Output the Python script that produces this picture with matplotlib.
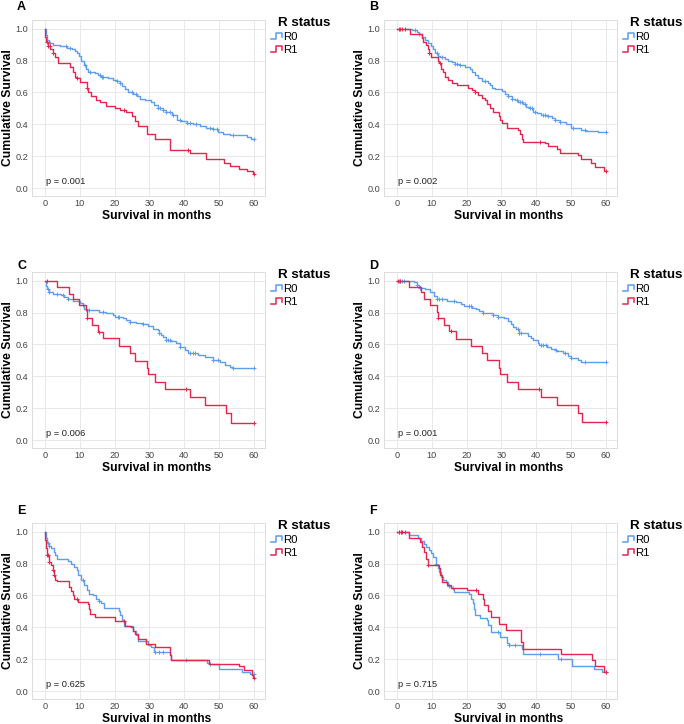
import numpy as np
import matplotlib
matplotlib.use('Agg')
import matplotlib.pyplot as plt
from matplotlib.legend_handler import HandlerBase
from matplotlib.lines import Line2D

plt.rcParams['font.family'] = ['Liberation Sans', 'DejaVu Sans']

# ---------------- data ----------------
panel_labels = ['A', 'B', 'C', 'D', 'E', 'F']
p_texts = ['p = 0.001', 'p = 0.002', 'p = 0.006', 'p = 0.001', 'p = 0.625', 'p = 0.715']
group_names = ['R0', 'R1']
x_ticks = [0, 10, 20, 30, 40, 50, 60]
y_ticks = [0.0, 0.2, 0.4, 0.6, 0.8, 1.0]

# Panel A
A_R0_t = [0.19, 0.67, 1.24, 2.39, 4.31, 6.22, 7.66, 8.61, 9.28, 9.86, 10.5, 11.2, 11.8, 12.4, 14.4, 15.3, 16.0,
          18.2, 19.6, 20.6, 21.5, 22.0, 23.0, 23.9, 25.4, 26.5, 27.3, 28.7, 30.6, 31.3, 32.5, 34.0, 34.9, 36.4,
          37.8, 39.2, 40.7, 42.6, 44.5, 46.4, 48.3, 49.8, 51.2, 53.1, 57.9, 59.3]
A_R0_s = [0.96, 0.93, 0.91, 0.90, 0.89, 0.88, 0.87, 0.86, 0.85, 0.83, 0.80, 0.77, 0.75, 0.73, 0.72, 0.71, 0.70,
          0.69, 0.68, 0.675, 0.66, 0.64, 0.62, 0.60, 0.59, 0.575, 0.56, 0.55, 0.54, 0.52, 0.50, 0.49, 0.475, 0.46,
          0.43, 0.42, 0.41, 0.40, 0.39, 0.38, 0.37, 0.35, 0.34, 0.33, 0.32, 0.31]
A_R0_c = [1.4, 6.2, 7.2, 11.5, 13.0, 15.8, 16.3, 16.7, 20.6, 21.5, 24.9, 26.3, 32.5, 33.0, 34.0, 34.9, 35.9,
          36.8, 38.7, 40.7, 41.6, 43.5, 47.4, 48.3, 49.3, 54.1, 60.0]
A_R1_t = [0.1, 0.38, 0.77, 1.44, 2.2, 2.87, 3.83, 7.18, 7.94, 8.61, 9.28, 10.05, 12.15, 12.5, 13.1, 14.8, 15.8,
          17.5, 20.1, 21.7, 23.4, 24.9, 25.8, 26.8, 29.2, 31.6, 35.9, 41.6, 46.4, 51.4, 53.1, 55.8, 57.9, 59.8]
A_R1_s = [0.95, 0.92, 0.89, 0.87, 0.85, 0.82, 0.785, 0.76, 0.73, 0.70, 0.69, 0.665, 0.63, 0.60, 0.575, 0.55, 0.54,
          0.515, 0.505, 0.49, 0.475, 0.45, 0.42, 0.39, 0.337, 0.305, 0.236, 0.222, 0.18, 0.16, 0.14, 0.12, 0.11, 0.09]
A_R1_c = [0.5, 0.9, 1.4, 2.4, 9.3, 12.2, 22.6, 41.2, 60.0]

# Panel B
B_R0_t = [4.3, 5.7, 6.4, 7.2, 8.1, 8.9, 9.8, 10.5, 11.0, 11.7, 12.4, 13.8, 14.8, 15.8, 16.7, 18.1, 19.6, 21.0,
          21.7, 22.4, 23.4, 24.4, 26.3, 26.7, 27.2, 28.2, 30.1, 31.0, 32.0, 33.0, 33.9, 34.9, 36.3, 37.2, 38.2,
          39.2, 40.1, 41.5, 43.0, 44.4, 45.4, 46.8, 48.7, 50.1, 53.0, 54.4, 57.8]
B_R0_s = [0.99, 0.98, 0.97, 0.95, 0.93, 0.91, 0.89, 0.87, 0.85, 0.83, 0.82, 0.81, 0.80, 0.79, 0.78, 0.77, 0.76,
          0.75, 0.73, 0.71, 0.69, 0.675, 0.66, 0.645, 0.63, 0.62, 0.61, 0.59, 0.575, 0.56, 0.55, 0.54, 0.53, 0.51,
          0.50, 0.48, 0.47, 0.46, 0.45, 0.44, 0.43, 0.415, 0.40, 0.38, 0.365, 0.36, 0.35]
B_R0_c = [5.3, 6.4, 11.5, 12.9, 16.7, 17.2, 18.1, 25.3, 32.0, 33.0, 34.4, 35.3, 35.8, 36.8, 38.2, 38.7, 39.6,
          42.0, 42.5, 43.5, 45.4, 46.8, 50.6, 53.9, 60.0]
B_R1_t = [3.8, 7.2, 7.6, 8.3, 8.8, 9.3, 9.8, 11.7, 12.2, 12.7, 13.2, 13.7, 14.6, 15.8, 17.2, 20.3, 21.7, 22.4,
          23.4, 24.4, 25.3, 26.0, 26.7, 27.7, 29.3, 29.6, 30.1, 31.5, 34.7, 35.3, 35.8, 36.3, 42.5, 43.5, 46.1,
          46.8, 51.9, 53.0, 55.7, 57.0, 59.5]
B_R1_s = [0.97, 0.94, 0.915, 0.90, 0.87, 0.85, 0.82, 0.80, 0.785, 0.75, 0.73, 0.70, 0.68, 0.66, 0.645, 0.625,
          0.615, 0.60, 0.585, 0.565, 0.55, 0.53, 0.50, 0.48, 0.45, 0.425, 0.41, 0.38, 0.365, 0.34, 0.31, 0.29,
          0.28, 0.265, 0.245, 0.222, 0.205, 0.18, 0.158, 0.135, 0.11]
B_R1_c = [0.5, 1.0, 1.4, 2.4, 9.3, 12.4, 22.4, 41.0, 60.0]

# Panel C
C_R0_t = [0.3, 0.6, 1.2, 2.2, 4.6, 5.6, 6.5, 8.0, 10.1, 10.8, 11.3, 12.0, 15.6, 17.6, 19.5, 20.0, 22.4, 23.3,
          24.3, 26.2, 28.1, 29.6, 31.0, 32.4, 32.7, 33.4, 33.9, 34.8, 36.0, 37.7, 38.7, 40.1, 41.1, 44.0, 45.9,
          48.3, 50.2, 51.6, 53.1, 54.0]
C_R0_s = [0.97, 0.95, 0.93, 0.92, 0.91, 0.90, 0.885, 0.875, 0.86, 0.845, 0.825, 0.815, 0.805, 0.795, 0.785,
          0.775, 0.765, 0.755, 0.743, 0.735, 0.726, 0.715, 0.70, 0.69, 0.675, 0.66, 0.645, 0.628, 0.62, 0.607,
          0.586, 0.565, 0.545, 0.533, 0.523, 0.50, 0.49, 0.47, 0.46, 0.453]
C_R0_c = [0.8, 1.2, 3.6, 5.1, 6.5, 10.8, 11.8, 12.8, 16.6, 20.9, 21.4, 24.3, 28.1, 32.9, 34.8, 35.3, 35.8, 38.7,
          41.6, 42.6, 43.0, 48.3, 49.7, 54.0, 60.0]
C_R1_t = [3.6, 7.0, 8.2, 9.9, 11.8, 12.0, 13.5, 15.2, 16.8, 21.2, 24.3, 26.0, 29.3, 29.6, 31.5, 34.5, 41.7,
          46.1, 52.1, 53.3]
C_R1_s = [0.962, 0.92, 0.885, 0.845, 0.816, 0.764, 0.72, 0.68, 0.638, 0.59, 0.544, 0.498, 0.45, 0.412, 0.366,
          0.32, 0.272, 0.22, 0.167, 0.11]
C_R1_c = [0.5, 12.0, 15.6, 40.6, 60.0]

# Panel D
D_R0_t = [5.0, 5.8, 6.3, 6.7, 8.2, 9.6, 10.6, 11.6, 14.5, 16.9, 18.3, 19.3, 21.7, 22.6, 23.6, 24.6, 27.5, 28.9,
          30.8, 31.8, 32.8, 33.4, 34.2, 35.2, 36.1, 37.6, 38.5, 39.0, 40.5, 40.9, 43.2, 44.3, 45.3, 45.8, 47.7,
          49.1, 50.1, 52.0, 53.0]
D_R0_s = [0.99, 0.975, 0.965, 0.955, 0.948, 0.927, 0.906, 0.885, 0.874, 0.864, 0.853, 0.843, 0.832, 0.82, 0.81,
          0.80, 0.784, 0.774, 0.765, 0.748, 0.727, 0.71, 0.696, 0.675, 0.669, 0.654, 0.64, 0.629, 0.612, 0.595,
          0.587, 0.574, 0.565, 0.556, 0.545, 0.528, 0.514, 0.505, 0.493]
D_R0_c = [0.5, 1.0, 1.4, 1.9, 5.8, 6.7, 11.6, 12.0, 13.0, 16.4, 20.7, 21.2, 24.6, 27.5, 28.9, 34.7, 35.2, 35.6,
          41.4, 41.9, 42.8, 45.7, 48.2, 50.1, 53.9, 60.0]
D_R1_t = [3.4, 6.9, 7.7, 9.6, 11.6, 11.8, 13.5, 15.1, 16.9, 21.2, 24.3, 26.0, 29.4, 29.6, 31.5, 34.7, 41.4,
          46.1, 52.0, 53.2]
D_R1_s = [0.962, 0.927, 0.885, 0.847, 0.805, 0.765, 0.723, 0.685, 0.637, 0.59, 0.549, 0.50, 0.45, 0.413, 0.365,
          0.323, 0.273, 0.22, 0.168, 0.113]
D_R1_c = [0.2, 0.8, 11.8, 15.4, 40.7, 60.0]

# Panel E
E_R0_t = [0.2, 0.5, 1.1, 1.7, 2.7, 3.0, 3.6, 6.5, 7.5, 8.4, 9.1, 9.6, 10.4, 11.3, 12.0, 12.6, 13.7, 14.7, 15.4,
          16.1, 17.1, 21.2, 21.6, 22.2, 22.6, 25.2, 26.2, 26.7, 29.6, 30.5, 31.2, 35.8, 36.3, 46.5, 47.3, 50.0,
          56.6, 59.0]
E_R0_s = [0.96, 0.93, 0.91, 0.895, 0.874, 0.853, 0.83, 0.815, 0.80, 0.776, 0.76, 0.727, 0.696, 0.665, 0.633,
          0.612, 0.60, 0.58, 0.565, 0.55, 0.524, 0.503, 0.476, 0.444, 0.407, 0.38, 0.35, 0.312, 0.29, 0.277, 0.245,
          0.224, 0.197, 0.176, 0.168, 0.136, 0.12, 0.105]
E_R0_c = [0.8, 1.2, 10.8, 15.6, 31.5, 32.9, 33.9, 40.6, 47.3, 60.0]
E_R1_t = [0.1, 0.3, 0.6, 1.1, 1.2, 1.7, 2.2, 2.5, 3.0, 3.6, 7.0, 7.5, 8.0, 8.4, 9.4, 12.3, 12.6, 13.0, 14.5,
          20.2, 23.1, 24.8, 25.2, 26.0, 26.7, 29.1, 31.5, 36.0, 36.2, 47.0, 55.8, 57.1, 59.5, 59.8]
E_R1_s = [0.95, 0.895, 0.853, 0.826, 0.81, 0.79, 0.763, 0.73, 0.696, 0.69, 0.654, 0.627, 0.60, 0.58, 0.56,
          0.545, 0.518, 0.486, 0.465, 0.44, 0.41, 0.402, 0.38, 0.357, 0.325, 0.298, 0.277, 0.224, 0.193, 0.172,
          0.155, 0.134, 0.103, 0.084]
E_R1_c = [0.6, 1.0, 1.2, 2.2, 2.5, 9.1, 22.8, 60.0]

# Panel F
F_R0_t = [3.6, 6.1, 6.9, 7.7, 8.3, 9.3, 9.8, 10.5, 11.2, 11.7, 12.2, 12.7, 13.2, 14.1, 14.8, 15.5, 16.5, 20.8,
          21.3, 21.8, 22.1, 22.5, 24.0, 25.9, 26.1, 26.9, 29.7, 31.7, 32.1, 35.9, 36.2, 46.3, 50.3, 56.6, 58.9]
F_R0_s = [0.979, 0.958, 0.943, 0.925, 0.906, 0.885, 0.864, 0.84, 0.80, 0.775, 0.75, 0.717, 0.696, 0.686, 0.658,
          0.644, 0.623, 0.612, 0.58, 0.55, 0.518, 0.476, 0.46, 0.444, 0.413, 0.37, 0.34, 0.30, 0.287, 0.266,
          0.235, 0.20, 0.16, 0.14, 0.12]
F_R0_c = [0.7, 1.2, 11.2, 15.0, 16.0, 29.0, 32.3, 33.8, 41.0, 47.2, 60.0]
F_R1_t = [3.6, 6.7, 7.1, 7.7, 8.3, 9.0, 12.2, 12.5, 12.9, 14.4, 15.5, 20.2, 23.2, 24.7, 25.1, 26.1, 26.9, 29.2,
          31.4, 35.7, 36.2, 47.0, 55.9, 57.0, 59.5]
F_R1_s = [0.962, 0.937, 0.906, 0.874, 0.832, 0.79, 0.77, 0.727, 0.686, 0.665, 0.65, 0.635, 0.608, 0.58, 0.54,
          0.50, 0.465, 0.42, 0.386, 0.308, 0.266, 0.23, 0.193, 0.155, 0.12]
F_R1_c = [0.7, 1.2, 1.6, 2.3, 9.0, 22.7, 60.0]

curves = {
    'A': [(A_R0_t, A_R0_s, A_R0_c), (A_R1_t, A_R1_s, A_R1_c)],
    'B': [(B_R0_t, B_R0_s, B_R0_c), (B_R1_t, B_R1_s, B_R1_c)],
    'C': [(C_R0_t, C_R0_s, C_R0_c), (C_R1_t, C_R1_s, C_R1_c)],
    'D': [(D_R0_t, D_R0_s, D_R0_c), (D_R1_t, D_R1_s, D_R1_c)],
    'E': [(E_R0_t, E_R0_s, E_R0_c), (E_R1_t, E_R1_s, E_R1_c)],
    'F': [(F_R0_t, F_R0_s, F_R0_c), (F_R1_t, F_R1_s, F_R1_c)],
}

colors = ['#5C9DED', '#E3264E']
x_end = 60


# ---------------- styling helpers ----------------
class StepHandler(HandlerBase):
    def create_artists(self, legend, orig_handle, xdescent, ydescent, width, height, fontsize, trans):
        x0 = -xdescent
        y0 = -ydescent + height * 0.1
        y1 = -ydescent + height * 0.85
        xs = [x0, x0 + width * 0.4, x0 + width * 0.4, x0 + width, x0 + width]
        ys = [y0, y0, y1, y1, y0 + height * 0.25]
        ln = Line2D(xs, ys, color=orig_handle.get_color(), lw=1.1, transform=trans)
        return [ln]


fig = plt.figure(figsize=(6.84, 7.24), dpi=100)

W, H = 684.0, 724.0
col_left = [32.0, 384.0]
legend_x = [271.0, 623.0]
row_top = [20.0, 272.0, 523.0]
ax_w, ax_h = 233.0, 176.0
letter_x = [17.0, 369.0]
letter_y = [7.0, 266.0, 511.0]

for i, name in enumerate(panel_labels):
    r, c = divmod(i, 2)
    ax = fig.add_axes([col_left[c] / W, 1 - (row_top[r] + ax_h) / H, ax_w / W, ax_h / H])
    ax.set_xlim(-3.7, 63.2)
    ax.set_ylim(-0.05, 1.055)
    ax.set_xticks(x_ticks)
    ax.set_yticks(y_ticks)
    ax.set_xticklabels([str(v) for v in x_ticks])
    ax.set_yticklabels([f'{v:.1f}' for v in y_ticks])
    ax.tick_params(length=0, pad=2.5, labelsize=6.6, labelcolor='#444444')
    ax.grid(True, color='#e8e8e8', lw=0.7)
    ax.set_axisbelow(True)
    for sp in ax.spines.values():
        sp.set_color('#dcdcdc')
        sp.set_linewidth(0.7)

    handles = []
    for g, (t, s, cens) in enumerate(curves[name]):
        t = np.asarray(t)
        s = np.asarray(s)
        xs = np.concatenate([[0.0], t, [x_end]])
        ys = np.concatenate([[1.0], s, [s[-1]]])
        ln, = ax.step(xs, ys, where='post', color=colors[g], lw=1.0)
        handles.append(ln)
        cens = np.asarray(cens)
        idx = np.searchsorted(t, cens, side='right') - 1
        cy = np.where(idx < 0, 1.0, s[np.clip(idx, 0, None)])
        ax.plot(cens, cy, ls='none', marker='+', ms=3.5, mew=0.7, color=colors[g])

    ax.text(0.3, 0.038, p_texts[i], fontsize=6.7, color='#222222', ha='left', va='center')

    ax.set_xlabel('Survival in months', fontsize=8.7, fontweight='bold')
    ax.xaxis.set_label_coords(0.536, -0.112)
    ax.xaxis.label.set_va('center')
    ax.set_ylabel('Cumulative Survival', fontsize=8.7, fontweight='bold')
    ax.yaxis.set_label_coords(-0.105, 0.5)
    ax.yaxis.label.set_va('center')

    leg = ax.legend(handles, group_names, title='R status', loc='upper left',
                    bbox_to_anchor=((legend_x[c] - col_left[c]) / ax_w, 1.0 + 3.0 / ax_h),
                    frameon=False, fontsize=8.2, title_fontsize=9.6,
                    handler_map={Line2D: StepHandler()}, handlelength=1.0, handletextpad=0.05,
                    borderaxespad=0.0, borderpad=0.0, labelspacing=0.25, alignment='left')
    leg.get_title().set_fontweight('bold')
    leg.get_title().set_position((7, 0))

    fig.text(letter_x[c] / W, 1 - letter_y[r] / H, name, fontsize=9, fontweight='bold',
             ha='left', va='center')

fig.savefig('out.png', dpi=100)
